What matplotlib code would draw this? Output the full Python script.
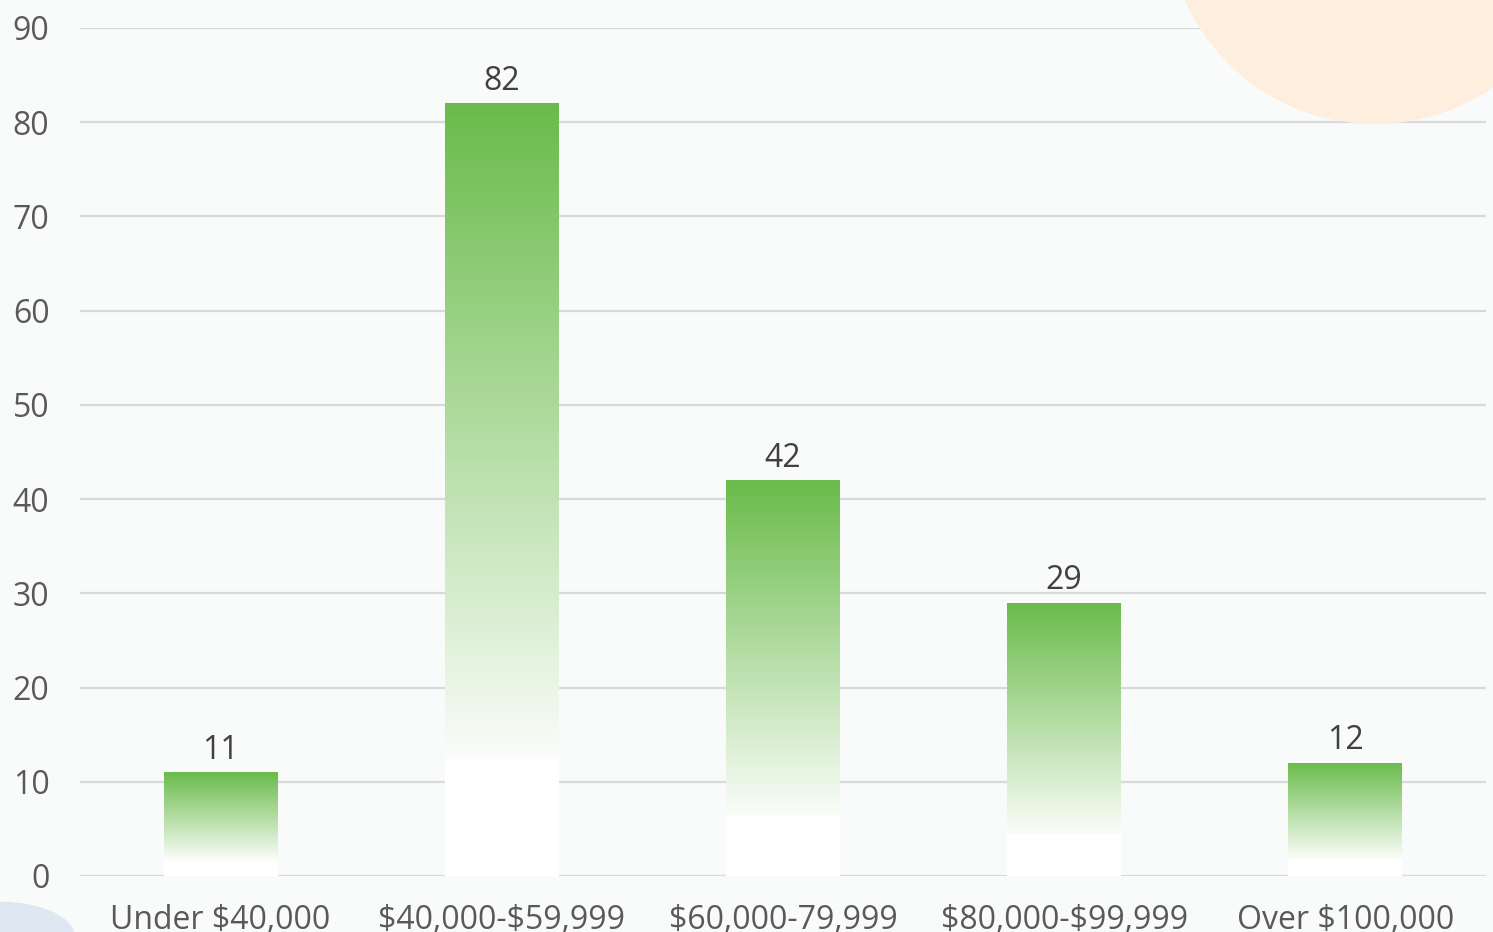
import numpy as np
import matplotlib.pyplot as plt
from matplotlib.patches import Ellipse

categories = ["Under $40,000", "$40,000-$59,999", "$60,000-79,999", "$80,000-$99,999", "Over $100,000"]
values = [11, 82, 42, 29, 12]
yticks = [0, 10, 20, 30, 40, 50, 60, 70, 80, 90]

plt.rcParams['font.family'] = ['Open Sans', 'DejaVu Sans']
plt.rcParams['text.parse_math'] = False

W, H = 1493, 932
fig = plt.figure(figsize=(W / 100, H / 100), dpi=100)
fig.patch.set_facecolor("#f9fbfa")

# decorative shapes in the background (pixel sizes converted to figure fractions)
fig.patches.append(Ellipse((1375 / W, 1 + 84 / H), 416 / W, 416 / H, transform=fig.transFigure,
                           facecolor="#fdeedd", edgecolor="none", zorder=0))
fig.patches.append(Ellipse((0.0, -0.005), 150 / W, 70 / H, transform=fig.transFigure,
                           facecolor="#dfe8f2", edgecolor="none", zorder=0))

ax = fig.add_axes([80 / W, 56 / H, 1406 / W, 848 / H])
ax.set_facecolor("none")

x = np.arange(len(categories))
bars = ax.bar(x, values, width=0.405, color="white", zorder=2)

# green to white gradient on each bar, bottom 15% plain white
green = np.array([106, 187, 74]) / 255
n = 256
t = np.linspace(0, 1, n)  # 0 at bottom, 1 at top
grad = np.ones((n, 1, 3))
for i in range(n):
    if t[i] >= 0.15:
        a = 0.03 + 0.97 * (t[i] - 0.15) / 0.85
        grad[i, 0] = (1 - a) * np.ones(3) + a * green
for b, v in zip(bars, values):
    x0 = b.get_x()
    im = ax.imshow(grad, extent=[x0, x0 + b.get_width(), 0, v], origin="lower",
                   aspect="auto", zorder=3, interpolation="bilinear")
    im.set_clip_path(b)
    ax.text(b.get_x() + b.get_width() / 2, v + 0.6, str(v), ha="center", va="bottom",
            fontsize=23, color="#404040", zorder=4)

ax.set_xlim(-0.5, 4.5)
ax.set_ylim(0, 90)
ax.set_yticks(yticks)
ax.yaxis.grid(True, color="#d9d9d9", linewidth=1.6, zorder=1)
ax.set_axisbelow(True)
for s in ax.spines.values():
    s.set_visible(False)
ax.tick_params(axis="both", length=0, labelsize=23, colors="#595959")
ax.tick_params(axis="y", pad=22)
ax.tick_params(axis="x", pad=20)
ax.set_xticks(x)
ax.set_xticklabels(categories)

fig.savefig("out.png", dpi=100, facecolor=fig.get_facecolor())
